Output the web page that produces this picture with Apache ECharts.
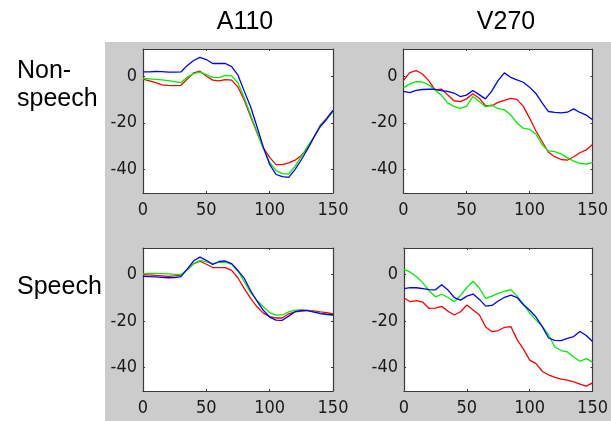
<!DOCTYPE html>
<html>
<head>
<meta charset="utf-8">
<script src="https://cdn.jsdelivr.net/npm/echarts@6/dist/echarts.min.js"></script>
<style>
html,body{margin:0;padding:0;background:#fff;}
#chart{width:611px;height:421px;}
</style>
</head>
<body>
<div id="chart"></div>
<script>
// ---- data ----
const columnTitles = ['A110', 'V270'];
const rowTitles = ['Non-\nspeech', 'Speech'];
const xTicks = [0, 50, 100, 150];
const yTicks = [-40, -20, 0];
const xValues = [0,5,10,15,20,25,30,35,40,45,50,55,60,65,70,75,80,85,90,95,100,105,110,115,120,125,130,135,140,145,150];

// A110, Non-speech
const a110NonRed   = [-1.4,-2.1,-2.9,-3.8,-4.0,-4.1,-4.0,-1.3,1.3,2.0,0.0,-1.8,-2.1,-1.6,-1.8,-4.8,-10.4,-17.4,-24.3,-30.7,-34.8,-37.9,-37.9,-37.1,-36.0,-34.0,-31.0,-26.1,-21.0,-18.0,-14.7];
const a110NonGreen = [-1.1,-1.3,-1.5,-1.7,-2.0,-2.4,-2.9,-0.5,1.0,1.6,0.6,-0.6,-0.7,0.2,0.0,-3.0,-9.4,-16.7,-24.0,-31.1,-36.9,-40.4,-41.7,-41.9,-38.6,-34.4,-30.0,-26.0,-21.3,-18.2,-15.4];
const a110NonBlue  = [1.7,1.7,1.9,1.8,1.6,1.6,1.7,4.5,6.6,7.9,7.0,5.3,5.3,5.3,4.0,0.3,-6.6,-13.3,-21.7,-30.4,-37.8,-42.1,-43.0,-43.3,-40.0,-35.8,-31.2,-26.1,-21.6,-18.5,-14.7];

// V270, Non-speech
const v270NonRed   = [-1.9,1.4,2.3,0.8,-2.0,-6.0,-5.6,-8.0,-10.6,-11.0,-9.8,-7.6,-9.5,-12.6,-12.8,-11.3,-10.4,-9.6,-10.0,-12.9,-18.0,-23.4,-28.0,-32.6,-34.5,-35.7,-36.0,-34.5,-32.8,-31.6,-29.3];
const v270NonGreen = [-5.1,-3.4,-2.4,-2.6,-3.8,-6.0,-8.2,-11.5,-13.0,-13.9,-13.0,-8.8,-10.8,-13.2,-12.4,-14.0,-14.4,-16.6,-20.0,-22.3,-22.8,-24.8,-29.4,-32.0,-32.3,-33.3,-35.0,-36.4,-37.3,-37.7,-36.9];
const v270NonBlue  = [-6.6,-7.1,-6.2,-5.8,-5.7,-5.7,-6.3,-6.6,-7.3,-8.8,-8.2,-6.2,-8.0,-9.8,-6.5,-2.0,1.3,-0.6,-1.7,-2.7,-4.8,-7.5,-11.5,-15.2,-15.6,-15.8,-15.5,-14.1,-15.6,-16.7,-18.7];

// A110, Speech
const a110SpRed   = [0.0,-0.1,-0.3,-0.5,-0.7,-0.5,-0.2,2.2,4.8,5.8,4.5,3.1,3.1,3.1,1.9,-1.4,-6.0,-10.2,-13.8,-16.5,-18.0,-18.6,-18.6,-16.8,-16.0,-15.6,-15.3,-15.6,-16.0,-16.3,-16.8];
const a110SpGreen = [0.4,0.6,0.6,0.5,0.4,0.2,0.1,2.2,4.8,6.2,5.5,4.8,5.3,5.4,4.5,1.5,-3.0,-7.7,-11.0,-13.8,-16.3,-17.4,-17.3,-16.0,-15.2,-15.1,-15.3,-15.9,-16.6,-17.1,-17.5];
const a110SpBlue  = [-0.7,-0.8,-0.9,-1.1,-1.3,-1.2,-0.8,2.5,6.0,7.6,6.2,4.4,5.7,5.9,4.8,1.8,-1.6,-6.9,-11.4,-15.3,-18.2,-19.5,-19.6,-17.8,-15.9,-15.3,-15.4,-16.1,-16.7,-17.0,-17.2];

// V270, Speech
const v270SpRed   = [-10.0,-11.6,-11.1,-11.8,-14.5,-14.4,-13.6,-15.7,-17.3,-15.9,-13.0,-15.2,-17.3,-22.5,-24.5,-24.0,-22.6,-22.3,-27.9,-32.0,-36.7,-38.2,-41.5,-43.1,-44.1,-44.9,-45.3,-46.1,-47.0,-47.9,-46.5];
const v270SpGreen = [2.3,1.1,-0.9,-3.5,-6.9,-9.5,-8.4,-9.8,-11.6,-8.9,-5.5,-2.8,-5.8,-10.2,-9.2,-8.0,-7.1,-6.4,-9.2,-12.6,-16.5,-19.5,-22.2,-25.8,-31.1,-32.6,-33.2,-35.4,-37.2,-36.1,-37.6];
const v270SpBlue  = [-6.0,-5.5,-5.6,-6.0,-6.4,-6.5,-4.3,-6.6,-9.8,-10.9,-9.2,-8.3,-10.6,-13.5,-13.2,-11.3,-9.7,-8.8,-9.8,-12.9,-15.3,-18.2,-22.3,-27.2,-28.2,-28.3,-27.4,-26.6,-24.4,-26.1,-28.7];

const panels = [
  { red: a110NonRed, green: a110NonGreen, blue: a110NonBlue },
  { red: v270NonRed, green: v270NonGreen, blue: v270NonBlue },
  { red: a110SpRed,  green: a110SpGreen,  blue: a110SpBlue },
  { red: v270SpRed,  green: v270SpGreen,  blue: v270SpBlue }
];

// ---- layout ----
const gridBoxes = [
  { left: 143, top: 49, width: 190, height: 144 },
  { left: 403.5, top: 49, width: 190, height: 144 },
  { left: 143, top: 248, width: 190, height: 143 },
  { left: 404, top: 248, width: 189, height: 143 }
];
const tickFont = "'Liberation Sans Narrow', 'DejaVu Sans Condensed', 'Liberation Sans', sans-serif";
const textFont = "'Liberation Sans', Arial, sans-serif";
const axisColor = '#3a3a3a';
const lineColors = { red: '#ff0000', green: '#00ee00', blue: '#0000ff' };

const grid = [], xAxis = [], yAxis = [], series = [];
gridBoxes.forEach((g, i) => {
  grid.push(Object.assign({ containLabel: false, show: true, backgroundColor: '#ffffff', borderWidth: 0 }, g));
  const common = {
    gridIndex: i,
    axisLine: { show: true, onZero: false, lineStyle: { color: axisColor, width: 1.2 } },
    splitLine: { show: false }
  };
  // bottom x
  xAxis.push(Object.assign({}, common, {
    type: 'value', position: 'bottom', min: 0, max: 150, interval: 50,
    axisTick: { show: true, inside: true, length: 2, lineStyle: { color: axisColor } },
    axisLabel: { show: true, margin: 8, fontFamily: tickFont, fontSize: 18, color: '#1a1a1a',
                 customValues: xTicks }
  }));
  // top x (box)
  xAxis.push(Object.assign({}, common, {
    type: 'value', position: 'top', min: 0, max: 150, interval: 50,
    axisTick: { show: true, inside: true, length: 2, lineStyle: { color: axisColor } },
    axisLabel: { show: false }
  }));
  // left y
  yAxis.push(Object.assign({}, common, {
    type: 'value', position: 'left', min: -50, max: 11.5,
    axisTick: { show: true, inside: true, length: 2, customValues: yTicks, lineStyle: { color: axisColor } },
    axisLabel: { show: true, margin: 6, fontFamily: tickFont, fontSize: 18, color: '#1a1a1a',
                 customValues: yTicks }
  }));
  // right y (box)
  yAxis.push(Object.assign({}, common, {
    type: 'value', position: 'right', min: -50, max: 11.5,
    axisTick: { show: true, inside: true, length: 2, customValues: yTicks, lineStyle: { color: axisColor } },
    axisLabel: { show: false }
  }));
  ['red', 'green', 'blue'].forEach(c => {
    series.push({
      type: 'line',
      xAxisIndex: i * 2,
      yAxisIndex: i * 2,
      data: xValues.map((x, k) => [x, panels[i][c][k]]),
      showSymbol: false,
      symbol: 'none',
      silent: true,
      animation: false,
      lineStyle: { color: lineColors[c], width: 1.3 },
      z: c === 'blue' ? 4 : (c === 'green' ? 3 : 2)
    });
  });
});

const graphic = [
  { type: 'rect', z: -10, silent: true, shape: { x: 105, y: 42, width: 506, height: 379 }, style: { fill: '#cccccc' } },
  { type: 'text', x: 245, y: 22, silent: true, style: { text: columnTitles[0], font: '25px ' + textFont, fill: '#000', align: 'center', verticalAlign: 'middle' } },
  { type: 'text', x: 506, y: 22, silent: true, style: { text: columnTitles[1], font: '25px ' + textFont, fill: '#000', align: 'center', verticalAlign: 'middle' } },
  { type: 'text', x: 17, y: 85.5, silent: true, style: { text: rowTitles[0], font: '25px ' + textFont, lineHeight: 28, fill: '#000', align: 'left', verticalAlign: 'middle' } },
  { type: 'text', x: 17, y: 287, silent: true, style: { text: rowTitles[1], font: '25px ' + textFont, fill: '#000', align: 'left', verticalAlign: 'middle' } }
];

const chart = echarts.init(document.getElementById('chart'), null, { renderer: 'canvas' });
chart.setOption({
  backgroundColor: '#ffffff',
  animation: false,
  grid, xAxis, yAxis, series, graphic
});
</script>
</body>
</html>
